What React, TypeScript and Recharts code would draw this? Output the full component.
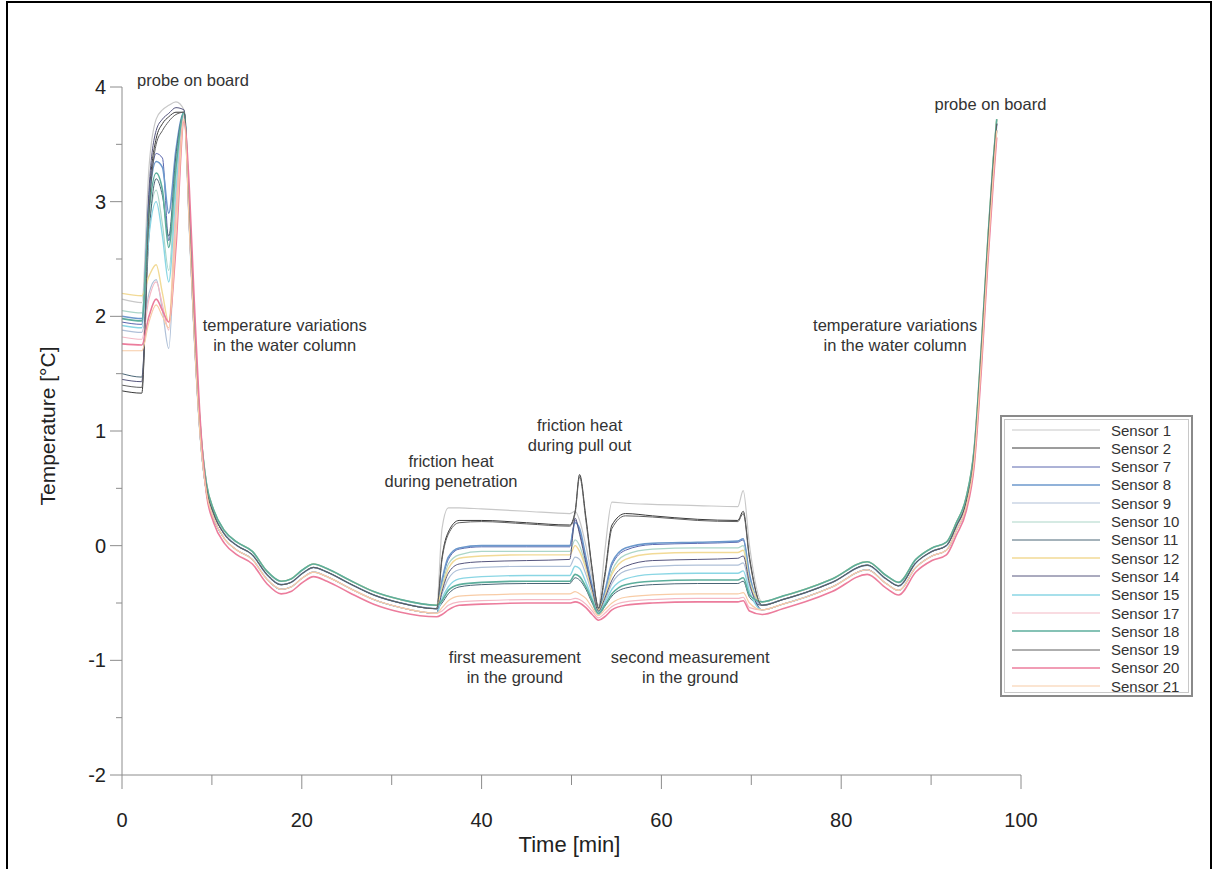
import { LineChart, Line, XAxis, YAxis, ReferenceDot } from 'recharts'

// time stamps [min], split by phase of the deployment
const T_START = [0, 2.2, 3.0, 3.8, 4.5, 5.2, 6.0, 6.9]
const T_DESCENT = [7.5, 8.0, 8.7, 9.4, 10.2, 11.4, 12.8, 14.5, 16.1, 17.7, 18.8, 20.1, 21.3, 22.8, 25.3, 28.0, 31.0, 35.0]
const T_GROUND = [35.6, 36.3, 37.5, 40, 45, 49.8, 50.4, 50.9, 51.6, 52.3, 53.0, 53.7, 54.5, 56, 59, 64, 68.5, 69.1, 69.8]
const T_ASCENT = [71.2, 73.5, 76, 79, 82.9, 85, 86.4, 88.3, 90.1, 91.7, 92.8, 93.9, 94.8, 95.6, 96.3, 96.9, 97.3]

// water column: the sensors run as a tight bundle
const DESCENT_HI = [2.9, 2.0, 1.05, 0.54, 0.31, 0.13, 0.03, -0.05, -0.22, -0.31, -0.29, -0.21, -0.16, -0.2, -0.3, -0.4, -0.47, -0.52]
const DESCENT_MID = [2.85, 1.95, 1.0, 0.5, 0.28, 0.1, 0.0, -0.08, -0.25, -0.34, -0.32, -0.24, -0.19, -0.23, -0.33, -0.43, -0.5, -0.55]
const DESCENT_LO = [2.75, 1.88, 0.95, 0.46, 0.24, 0.06, -0.04, -0.12, -0.29, -0.38, -0.36, -0.28, -0.23, -0.27, -0.37, -0.47, -0.54, -0.59]
const DESCENT_PINK = [3.1, 2.2, 1.1, 0.45, 0.2, 0.02, -0.08, -0.16, -0.33, -0.42, -0.4, -0.32, -0.27, -0.31, -0.41, -0.51, -0.58, -0.62]

const ASCENT_HI = [-0.49, -0.44, -0.38, -0.29, -0.14, -0.26, -0.32, -0.12, -0.02, 0.03, 0.2, 0.42, 0.85, 1.75, 2.65, 3.35, 3.72]
const ASCENT_MID = [-0.52, -0.47, -0.41, -0.32, -0.17, -0.29, -0.35, -0.15, -0.05, 0.0, 0.17, 0.38, 0.8, 1.7, 2.6, 3.3, 3.68]
const ASCENT_LO = [-0.56, -0.51, -0.45, -0.36, -0.21, -0.33, -0.39, -0.19, -0.09, -0.04, 0.13, 0.34, 0.75, 1.62, 2.52, 3.22, 3.62]
const ASCENT_PINK = [-0.6, -0.55, -0.49, -0.4, -0.25, -0.37, -0.43, -0.23, -0.13, -0.08, 0.09, 0.3, 0.7, 1.55, 2.45, 3.15, 3.56]

// on board / entering the water
const S1_START = [2.15, 2.12, 3.3, 3.72, 3.8, 3.84, 3.87, 3.8]
const S2_START = [1.35, 1.33, 3.0, 3.55, 3.68, 3.74, 3.78, 3.78]
const S7_START = [1.95, 1.93, 3.0, 3.42, 3.38, 2.66, 3.3, 3.78]
const S8_START = [2.0, 1.98, 3.0, 3.35, 3.3, 2.9, 3.45, 3.78]
const S9_START = [1.88, 1.86, 2.2, 2.32, 2.05, 1.72, 2.9, 3.76]
const S10_START = [2.05, 2.03, 2.8, 3.1, 2.8, 2.4, 3.2, 3.78]
const S11_START = [1.5, 1.47, 2.7, 3.2, 3.05, 2.7, 3.4, 3.77]
const S12_START = [2.2, 2.18, 2.35, 2.45, 2.2, 1.95, 3.0, 3.77]
const S14_START = [1.45, 1.43, 3.1, 3.62, 3.72, 3.77, 3.82, 3.8]
const S15_START = [1.92, 1.9, 2.7, 3.0, 2.7, 2.3, 3.1, 3.77]
const S17_START = [1.82, 1.8, 2.15, 2.3, 2.1, 1.88, 2.9, 3.75]
const S18_START = [1.98, 1.96, 2.9, 3.25, 3.1, 2.6, 3.3, 3.78]
const S19_START = [1.4, 1.38, 2.9, 3.5, 3.62, 3.7, 3.76, 3.78]
const S20_START = [1.76, 1.75, 2.0, 2.15, 2.05, 1.95, 2.6, 3.7]
const S21_START = [1.7, 1.7, 1.95, 2.1, 2.0, 1.9, 2.7, 3.72]

// first and second measurement in the ground
const S1_GROUND = [0.15, 0.33, 0.33, 0.32, 0.3, 0.28, 0.3, 0.22, 0.0, -0.28, -0.52, -0.05, 0.38, 0.37, 0.36, 0.35, 0.34, 0.48, 0.0]
const S2_GROUND = [-0.1, 0.12, 0.22, 0.22, 0.2, 0.18, 0.3, 0.62, 0.25, -0.2, -0.54, -0.25, 0.18, 0.28, 0.26, 0.23, 0.22, 0.3, -0.1]
const S7_GROUND = [-0.32, -0.12, -0.03, -0.01, -0.01, -0.01, 0.22, 0.12, -0.12, -0.36, -0.57, -0.42, -0.17, -0.04, 0.01, 0.02, 0.03, 0.05, -0.27]
const S8_GROUND = [-0.3, -0.1, -0.02, 0.0, 0.0, 0.0, 0.2, 0.15, -0.1, -0.35, -0.56, -0.4, -0.15, -0.02, 0.02, 0.03, 0.04, 0.06, -0.25]
const S9_GROUND = [-0.42, -0.29, -0.21, -0.19, -0.18, -0.18, -0.1, -0.12, -0.25, -0.42, -0.58, -0.48, -0.33, -0.22, -0.18, -0.17, -0.17, -0.15, -0.35]
const S10_GROUND = [-0.35, -0.16, -0.08, -0.05, -0.05, -0.05, 0.05, 0.0, -0.18, -0.4, -0.57, -0.44, -0.22, -0.08, -0.03, -0.02, -0.02, 0.0, -0.3]
const S11_GROUND = [-0.5, -0.42, -0.36, -0.34, -0.33, -0.33, -0.28, -0.3, -0.38, -0.5, -0.6, -0.53, -0.44, -0.37, -0.34, -0.33, -0.33, -0.31, -0.45]
const S12_GROUND = [-0.38, -0.2, -0.11, -0.09, -0.08, -0.08, 0.0, -0.05, -0.2, -0.4, -0.56, -0.45, -0.25, -0.12, -0.07, -0.06, -0.06, -0.04, -0.32]
const S14_GROUND = [-0.4, -0.24, -0.16, -0.14, -0.13, -0.12, 0.24, 0.1, -0.15, -0.38, -0.57, -0.46, -0.3, -0.18, -0.13, -0.12, -0.11, -0.09, -0.33]
const S15_GROUND = [-0.46, -0.36, -0.29, -0.27, -0.26, -0.26, -0.18, -0.2, -0.32, -0.46, -0.6, -0.5, -0.38, -0.29, -0.25, -0.24, -0.24, -0.22, -0.4]
const S17_GROUND = [-0.57, -0.52, -0.49, -0.48, -0.47, -0.47, -0.46, -0.47, -0.51, -0.57, -0.63, -0.59, -0.53, -0.49, -0.47, -0.46, -0.46, -0.45, -0.54]
const S18_GROUND = [-0.48, -0.39, -0.34, -0.32, -0.31, -0.31, -0.25, -0.27, -0.36, -0.48, -0.59, -0.52, -0.42, -0.34, -0.31, -0.3, -0.3, -0.28, -0.43]
const S19_GROUND = [-0.12, 0.1, 0.2, 0.21, 0.19, 0.17, 0.28, 0.6, 0.22, -0.22, -0.55, -0.28, 0.15, 0.26, 0.25, 0.22, 0.21, 0.28, -0.12]
const S20_GROUND = [-0.6, -0.56, -0.52, -0.51, -0.5, -0.5, -0.49, -0.5, -0.54, -0.6, -0.65, -0.62, -0.56, -0.52, -0.5, -0.49, -0.49, -0.48, -0.57]
const S21_GROUND = [-0.54, -0.48, -0.44, -0.43, -0.42, -0.42, -0.4, -0.42, -0.46, -0.54, -0.61, -0.56, -0.5, -0.45, -0.43, -0.42, -0.42, -0.41, -0.5]

const X_TICKS = [0, 10, 20, 30, 40, 50, 60, 70, 80, 90, 100]
const Y_TICKS = [-2, -1.5, -1, -0.5, 0, 0.5, 1, 1.5, 2, 2.5, 3, 3.5, 4]

const NOTES = [
  ['probe on board'],
  ['temperature variations', 'in the water column'],
  ['friction heat', 'during penetration'],
  ['friction heat', 'during pull out'],
  ['first measurement', 'in the ground'],
  ['second measurement', 'in the ground'],
  ['temperature variations', 'in the water column'],
  ['probe on board'],
]
const NOTE_T = [7.9, 18.1, 36.6, 50.9, 43.7, 63.2, 86.0, 96.6]
const NOTE_V = [4.05, 1.83, 0.64, 0.96, -1.07, -1.07, 1.83, 3.84]

type Sensor = {
  key: string
  name: string
  color: string
  width: number
  values: number[]
}

const TIME = [...T_START, ...T_DESCENT, ...T_GROUND, ...T_ASCENT]

const SENSORS: Sensor[] = [
  { key: 's1', name: 'Sensor 1', color: '#c8c8c8', width: 1.2, values: [...S1_START, ...DESCENT_HI, ...S1_GROUND, ...ASCENT_HI] },
  { key: 's2', name: 'Sensor 2', color: '#3a3a3a', width: 1, values: [...S2_START, ...DESCENT_MID, ...S2_GROUND, ...ASCENT_MID] },
  { key: 's7', name: 'Sensor 7', color: '#5a66ae', width: 1, values: [...S7_START, ...DESCENT_LO, ...S7_GROUND, ...ASCENT_LO] },
  { key: 's8', name: 'Sensor 8', color: '#6c98cc', width: 1.6, values: [...S8_START, ...DESCENT_MID, ...S8_GROUND, ...ASCENT_MID] },
  { key: 's9', name: 'Sensor 9', color: '#afc0d8', width: 1.2, values: [...S9_START, ...DESCENT_MID, ...S9_GROUND, ...ASCENT_MID] },
  { key: 's10', name: 'Sensor 10', color: '#acd6c8', width: 1.2, values: [...S10_START, ...DESCENT_HI, ...S10_GROUND, ...ASCENT_HI] },
  { key: 's11', name: 'Sensor 11', color: '#4a6676', width: 1, values: [...S11_START, ...DESCENT_MID, ...S11_GROUND, ...ASCENT_MID] },
  { key: 's12', name: 'Sensor 12', color: '#f2da96', width: 1.4, values: [...S12_START, ...DESCENT_HI, ...S12_GROUND, ...ASCENT_HI] },
  { key: 's14', name: 'Sensor 14', color: '#56567e', width: 1, values: [...S14_START, ...DESCENT_LO, ...S14_GROUND, ...ASCENT_LO] },
  { key: 's15', name: 'Sensor 15', color: '#8ad6e4', width: 1.4, values: [...S15_START, ...DESCENT_LO, ...S15_GROUND, ...ASCENT_LO] },
  { key: 's17', name: 'Sensor 17', color: '#f4b8c4', width: 1.2, values: [...S17_START, ...DESCENT_LO, ...S17_GROUND, ...ASCENT_LO] },
  { key: 's18', name: 'Sensor 18', color: '#5cae9c', width: 1.6, values: [...S18_START, ...DESCENT_HI, ...S18_GROUND, ...ASCENT_HI] },
  { key: 's19', name: 'Sensor 19', color: '#5e5e5e', width: 1, values: [...S19_START, ...DESCENT_MID, ...S19_GROUND, ...ASCENT_MID] },
  { key: 's20', name: 'Sensor 20', color: '#ec7c9c', width: 1.6, values: [...S20_START, ...DESCENT_PINK, ...S20_GROUND, ...ASCENT_PINK] },
  { key: 's21', name: 'Sensor 21', color: '#f8cca6', width: 1.2, values: [...S21_START, ...DESCENT_LO, ...S21_GROUND, ...ASCENT_LO] },
]

const data = TIME.map((t, i) => {
  const row: Record<string, number> = { t }
  SENSORS.forEach((s) => {
    row[s.key] = s.values[i]
  })
  return row
})

const FONT = '"Liberation Sans", Arial, Helvetica, sans-serif'
const AXIS = '#8c8c8c'

const XTick = (props: any) => {
  const { x, y, payload } = props
  const major = payload.value % 20 === 0
  return (
    <g>
      <line x1={x} x2={x} y1={y} y2={y + (major ? 14 : 10)} stroke={AXIS} />
      {major && (
        <text x={x} y={y + 52} textAnchor="middle" fontSize={20} fill="#222" fontFamily={FONT}>
          {payload.value}
        </text>
      )}
    </g>
  )
}

const YTick = (props: any) => {
  const { x, y, payload } = props
  const major = Number.isInteger(payload.value)
  return (
    <g>
      <line x1={x - (major ? 12 : 6)} x2={x} y1={y} y2={y} stroke={AXIS} />
      {major && (
        <text x={x - 16} y={y + 7} textAnchor="end" fontSize={20} fill="#222" fontFamily={FONT}>
          {payload.value}
        </text>
      )}
    </g>
  )
}

const Note = ({ cx, cy, lines }: any) => (
  <text textAnchor="middle" fontSize={16.5} fill="#333" fontFamily={FONT}>
    {lines.map((l: string, i: number) => (
      <tspan key={i} x={cx} y={cy + 5 + (i - (lines.length - 1) / 2) * 20}>
        {l}
      </tspan>
    ))}
  </text>
)

function SensorLegend() {
  return (
    <div
      style={{
        position: 'absolute',
        left: 1000,
        top: 415,
        width: 189,
        height: 278,
        border: '2px solid #8a8a8a',
        outline: '1px solid #c8c8c8',
        outlineOffset: -5,
        background: '#fff',
        fontFamily: FONT,
        fontSize: 15,
        color: '#333',
      }}
    >
      {SENSORS.map((s, i) => (
        <div
          key={s.key}
          style={{ position: 'absolute', left: 0, top: 4 + i * 18.3, height: 18, display: 'flex', alignItems: 'center' }}
        >
          <svg width={100} height={18} style={{ display: 'block' }}>
            <line x1={10} x2={98} y1={9} y2={9} stroke={s.color} strokeWidth={s.width} />
          </svg>
          <span style={{ marginLeft: 9, whiteSpace: 'nowrap' }}>{s.name}</span>
        </div>
      ))}
    </div>
  )
}

export default function App() {
  return (
    <div style={{ position: 'absolute', left: 0, top: 0, width: 1213, height: 869, background: '#fff', overflow: 'hidden' }}>
      <div
        style={{
          position: 'absolute',
          left: 6,
          top: 1,
          width: 1202,
          height: 880,
          borderTop: '2px solid #000',
          borderLeft: '2px solid #000',
          borderRight: '2px solid #000',
        }}
      />
      <LineChart
        width={1213}
        height={869}
        data={data}
        margin={{ top: 87, right: 192, bottom: 34, left: 42 }}
        style={{ position: 'absolute', left: 0, top: 0 }}
      >
        <XAxis
          dataKey="t"
          type="number"
          domain={[0, 100]}
          ticks={X_TICKS}
          interval={0}
          height={60}
          tickSize={0}
          tickMargin={0}
          stroke={AXIS}
          tick={<XTick />}
          label={{
            content: ({ viewBox }: any) => (
              <text x={viewBox.x + viewBox.width / 2 - 2} y={852} textAnchor="middle" fontSize={22} fill="#222" fontFamily={FONT}>
                Time [min]
              </text>
            ),
          }}
        />
        <YAxis
          type="number"
          domain={[-2, 4]}
          ticks={Y_TICKS}
          interval={0}
          width={80}
          tickSize={0}
          tickMargin={0}
          stroke={AXIS}
          tick={<YTick />}
          label={{
            content: ({ viewBox }: any) => {
              const cy = viewBox.y + viewBox.height / 2 - 5
              return (
                <text
                  x={55}
                  y={cy}
                  transform={`rotate(-90 55 ${cy})`}
                  textAnchor="middle"
                  fontSize={21}
                  fill="#222"
                  fontFamily={FONT}
                >
                  Temperature [°C]
                </text>
              )
            },
          }}
        />
        {SENSORS.map((s) => (
          <Line
            key={s.key}
            dataKey={s.key}
            name={s.name}
            type="monotone"
            stroke={s.color}
            strokeWidth={s.width}
            dot={false}
            activeDot={false}
            isAnimationActive={false}
          />
        ))}
        {NOTES.map((lines, i) => (
          <ReferenceDot
            key={i}
            x={NOTE_T[i]}
            y={NOTE_V[i]}
            ifOverflow="visible"
            shape={(p: any) => <Note cx={p.cx} cy={p.cy} lines={lines} />}
          />
        ))}
      </LineChart>
      <SensorLegend />
    </div>
  )
}
